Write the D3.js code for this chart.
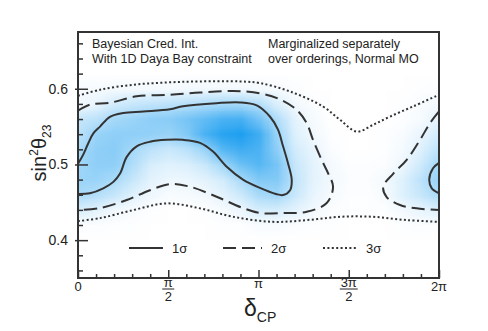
<!DOCTYPE html>
<html>
<head>
<meta charset="utf-8">
<script src="https://cdn.jsdelivr.net/npm/d3@7"></script>
<style>
  body { margin: 0; background: #fff; }
  text { font-family: "Liberation Sans", Arial, sans-serif; fill: #222; }
</style>
</head>
<body>
<script>
// chart.js - sin^2 theta23 vs delta_CP credible regions

const width = 488;
const height = 331;

// heat map nodes: delta in units of pi, rows of sin^2(theta23)
const heatDelta = [0, 0.1, 0.2, 0.3, 0.4, 0.5, 0.6, 0.7, 0.8, 0.9, 1.0, 1.1, 1.2, 1.3, 1.4, 1.5, 1.6, 1.7, 1.8, 1.9, 2.0];
const heatS23 = [0.62, 0.60, 0.58, 0.56, 0.54, 0.52, 0.50, 0.48, 0.46, 0.44, 0.42, 0.40];
const heatRows = [
  [0, 0, 0, 0, 0, 0, 0, 0, 0, 0, 0, 0, 0, 0, 0, 0, 0, 0, 0, 0, 0],
  [.04, .04, .05, .05, .05, .05, .06, .06, .06, .06, .05, .04, .02, 0, 0, 0, 0, 0, 0, .01, .02],
  [.06, .1, .2, .25, .28, .3, .32, .36, .4, .4, .34, .16, .06, .02, 0, 0, 0, 0, .01, .03, .06],
  [.25, .3, .4, .45, .5, .52, .6, .7, .8, .82, .62, .35, .12, .04, 0, 0, 0, 0, .01, .04, .12],
  [.3, .45, .5, .5, .48, .45, .55, .8, .95, 1, .85, .45, .15, .06, .01, 0, 0, .01, .03, .1, .2],
  [.38, .5, .52, .4, .3, .24, .3, .45, .75, .85, .8, .5, .2, .1, .02, 0, 0, .01, .05, .15, .3],
  [.42, .5, .5, .35, .18, .14, .16, .24, .42, .65, .75, .6, .25, .12, .05, .01, .01, .02, .08, .22, .42],
  [.45, .45, .38, .25, .12, .08, .08, .12, .2, .38, .55, .55, .28, .12, .06, .02, .02, .05, .15, .3, .48],
  [.38, .33, .25, .14, .07, .03, .04, .06, .12, .22, .38, .42, .24, .1, .04, .01, .01, .04, .15, .25, .38],
  [.17, .12, .06, .03, .01, 0, 0, .01, .04, .08, .18, .18, .12, .06, .02, .01, .01, .01, .06, .1, .15],
  [.02, .02, .01, .01, 0, 0, 0, 0, .01, .01, .03, .03, .02, .01, .01, 0, 0, 0, .01, .02, .02],
  [0, 0, 0, 0, 0, 0, 0, 0, 0, 0, 0, 0, 0, 0, 0, 0, 0, 0, 0, 0, 0]
];

// contours, [delta/pi, sin^2 theta23]
const sigma1Main = [
  [0, 0.501], [0.029, 0.513], [0.057, 0.528], [0.085, 0.541], [0.122, 0.550], [0.177, 0.563],
  [0.251, 0.568], [0.362, 0.570], [0.510, 0.573], [0.582, 0.577], [0.768, 0.581], [0.898, 0.582],
  [0.990, 0.578], [1.064, 0.563], [1.108, 0.546], [1.136, 0.524], [1.163, 0.502], [1.184, 0.480],
  [1.175, 0.466], [1.136, 0.4596], [1.097, 0.461], [1.008, 0.469], [0.914, 0.480], [0.824, 0.497],
  [0.748, 0.517], [0.676, 0.5285], [0.582, 0.5325], [0.491, 0.5325], [0.399, 0.530], [0.325, 0.524],
  [0.270, 0.510], [0.233, 0.488], [0.196, 0.477], [0.140, 0.4685], [0.066, 0.462], [0, 0.461]
];
const sigma1Right = [
  [2.0, 0.502], [1.967, 0.495], [1.946, 0.480], [1.960, 0.4685], [2.0, 0.462]
];
const sigma2Main = [
  [0, 0.571], [0.066, 0.579], [0.177, 0.5815], [0.325, 0.590], [0.510, 0.592], [0.676, 0.595],
  [0.859, 0.597], [1.008, 0.594], [1.119, 0.586], [1.212, 0.572], [1.267, 0.5546], [1.302, 0.5325],
  [1.350, 0.506], [1.385, 0.4887], [1.413, 0.4706], [1.378, 0.449], [1.267, 0.4375], [1.136, 0.4358],
  [1.008, 0.4358], [0.914, 0.4424], [0.768, 0.4574], [0.620, 0.4706], [0.510, 0.474], [0.399, 0.466],
  [0.270, 0.453], [0.122, 0.4424], [0, 0.4397]
];
const sigma2Right = [
  [2.0, 0.570], [1.950, 0.5546], [1.895, 0.5325], [1.821, 0.506], [1.747, 0.488], [1.691, 0.4706],
  [1.710, 0.457], [1.784, 0.4464], [1.876, 0.442], [2.0, 0.4397]
];
const sigma3Upper = [
  [0, 0.5907], [0.122, 0.5987], [0.305, 0.6053], [0.491, 0.6083], [0.676, 0.6097], [0.898, 0.6097],
  [1.008, 0.6075], [1.175, 0.5964], [1.357, 0.5766], [1.452, 0.559], [1.544, 0.5434], [1.634, 0.5523],
  [1.729, 0.5633], [1.856, 0.5766], [2.0, 0.592]
];
const sigma3Lower = [
  [0, 0.4252], [0.122, 0.4291], [0.305, 0.4397], [0.491, 0.4486], [0.676, 0.442], [0.859, 0.4309],
  [1.080, 0.4242], [1.267, 0.4265], [1.452, 0.4309], [1.634, 0.4309], [1.821, 0.4265], [2.0, 0.4242]
];

const yMajor = [0.4, 0.5, 0.6];
const yMinor = [0.36, 0.38, 0.42, 0.44, 0.46, 0.48, 0.52, 0.54, 0.56, 0.58, 0.62, 0.64, 0.66];
const xMinorSteps = [1, 2, 3, 4, 6, 7, 8, 9, 11, 12, 13, 14, 16, 17, 18, 19]; // in pi/10
const xMajorSteps = [0, 5, 10, 15, 20];

const margin = { left: 78, right: 49, top: 32, bottom: 53 };

const svg = d3.select("body").append("svg")
  .attr("width", width)
  .attr("height", height)
  .style("display", "block");

const x = d3.scaleLinear().domain([0, 2 * Math.PI]).range([margin.left, width - margin.right]);
const y = d3.scaleLinear().domain([0.35, 0.675]).range([height - margin.bottom, margin.top]);

// colour map, white to blue
const color = d3.scaleLinear().domain([0, 1]).range(["#ffffff", "#1e9ff0"]);

svg.append("clipPath").attr("id", "plotClip")
  .append("rect")
  .attr("x", x(0)).attr("y", y(0.675))
  .attr("width", x(2 * Math.PI) - x(0))
  .attr("height", y(0.35) - y(0.675));

// build a tiny image, one pixel per node, let the browser smooth it
const canvas = document.createElement("canvas");
canvas.width = heatDelta.length;
canvas.height = heatS23.length;
const ctx = canvas.getContext("2d");
heatRows.forEach((row, j) => {
  row.forEach((v, i) => {
    ctx.fillStyle = color(v);
    ctx.fillRect(i, j, 1, 1);
  });
});
const cellW = x(heatDelta[1] * Math.PI) - x(heatDelta[0] * Math.PI);
const cellH = y(heatS23[1]) - y(heatS23[0]);

svg.append("g").attr("clip-path", "url(#plotClip)")
  .append("image")
  .attr("href", canvas.toDataURL())
  .attr("preserveAspectRatio", "none")
  .attr("x", x(heatDelta[0] * Math.PI) - cellW / 2)
  .attr("y", y(heatS23[0]) - cellH / 2)
  .attr("width", cellW * heatDelta.length)
  .attr("height", cellH * heatS23.length);

// contour lines
const line = d3.line()
  .x(d => x(d[0] * Math.PI))
  .y(d => y(d[1]))
  .curve(d3.curveCatmullRom.alpha(0.5));

const styles = {
  solid: null,
  dashed: "13,6",
  dotted: "2,2.4"
};

const contours = [
  [sigma1Main, "solid"], [sigma1Right, "solid"],
  [sigma2Main, "dashed"], [sigma2Right, "dashed"],
  [sigma3Upper, "dotted"], [sigma3Lower, "dotted"]
];

const cg = svg.append("g").attr("clip-path", "url(#plotClip)");
contours.forEach(([pts, s]) => {
  cg.append("path")
    .attr("d", line(pts))
    .attr("fill", "none")
    .attr("stroke", "#333")
    .attr("stroke-width", 2)
    .attr("stroke-dasharray", styles[s]);
});

// axes
const yAxis = svg.append("g")
  .attr("transform", `translate(${x(0)},0)`)
  .call(d3.axisLeft(y).tickValues(yMajor).tickSizeInner(-10).tickSizeOuter(0).tickPadding(10)
    .tickFormat(d3.format(".1f")));
yAxis.select(".domain").remove();
yAxis.selectAll("line").attr("stroke", "#333").attr("stroke-width", 1.5).attr("x1", -3);
yAxis.selectAll("text").style("font-size", "14px").attr("fill", "#222");

const yMinorAxis = svg.append("g")
  .attr("transform", `translate(${x(0)},0)`)
  .call(d3.axisLeft(y).tickValues(yMinor).tickSizeInner(-5).tickSizeOuter(0).tickFormat(""));
yMinorAxis.select(".domain").remove();
yMinorAxis.selectAll("line").attr("stroke", "#333").attr("stroke-width", 1.5);

const xAxis = svg.append("g")
  .attr("transform", `translate(0,${y(0.35)})`)
  .call(d3.axisBottom(x).tickValues(xMajorSteps.map(k => k * Math.PI / 10)).tickSizeInner(-8).tickSizeOuter(0).tickFormat(""));
xAxis.select(".domain").remove();
xAxis.selectAll("line").attr("stroke", "#333").attr("stroke-width", 1.5);

const xMinorAxis = svg.append("g")
  .attr("transform", `translate(0,${y(0.35)})`)
  .call(d3.axisBottom(x).tickValues(xMinorSteps.map(k => k * Math.PI / 10)).tickSizeInner(-4).tickSizeOuter(0).tickFormat(""));
xMinorAxis.select(".domain").remove();
xMinorAxis.selectAll("line").attr("stroke", "#333").attr("stroke-width", 1.5);

// frame
svg.append("rect")
  .attr("x", x(0)).attr("y", y(0.675))
  .attr("width", x(2 * Math.PI) - x(0))
  .attr("height", y(0.35) - y(0.675))
  .attr("fill", "none")
  .attr("stroke", "#333")
  .attr("stroke-width", 2);

// x tick labels, pi fractions
const xLab = svg.append("g").style("font-size", "13px").attr("text-anchor", "middle");
const yb = y(0.35);
xLab.append("text").attr("x", x(0)).attr("y", yb + 13).text("0");
xLab.append("text").attr("x", x(Math.PI)).attr("y", yb + 10).text("π");
xLab.append("text").attr("x", x(2 * Math.PI)).attr("y", yb + 13).text("2π");
[[Math.PI / 2, "π", 6], [3 * Math.PI / 2, "3π", 9]].forEach(([v, num, hw]) => {
  xLab.append("text").attr("x", x(v)).attr("y", yb + 9).text(num);
  xLab.append("line")
    .attr("x1", x(v) - hw).attr("x2", x(v) + hw)
    .attr("y1", yb + 11).attr("y2", yb + 11)
    .attr("stroke", "#222").attr("stroke-width", 1);
  xLab.append("text").attr("x", x(v)).attr("y", yb + 23).text("2");
});

// axis titles
const xt = svg.append("text")
  .attr("x", 244).attr("y", 316);
xt.append("tspan").style("font-size", "23px").text("δ");
xt.append("tspan").style("font-size", "14px").attr("dy", 6).text("CP");

const yt = svg.append("text")
  .attr("transform", "translate(46,153) rotate(-90)")
  .attr("text-anchor", "middle");
yt.append("tspan").style("font-size", "20px").text("sin");
yt.append("tspan").style("font-size", "12px").attr("dy", -8).text("2");
yt.append("tspan").style("font-size", "20px").attr("dy", 8).text("θ");
yt.append("tspan").style("font-size", "12px").attr("dy", 5).text("23");

// annotations
const notes = svg.append("g").style("font-size", "12.5px");
notes.append("text").attr("x", 92).attr("y", 48).text("Bayesian Cred. Int.");
notes.append("text").attr("x", 92).attr("y", 63).text("With 1D Daya Bay constraint");
notes.append("text").attr("x", 268).attr("y", 48).text("Marginalized separately");
notes.append("text").attr("x", 268).attr("y", 63).text("over orderings, Normal MO");

// legend
const legendItems = [
  ["solid", "1σ", 129, 163],
  ["dashed", "2σ", 223, 262],
  ["dotted", "3σ", 323, 357]
];
const lg = svg.append("g");
legendItems.forEach(([s, label, x1, x2]) => {
  lg.append("line")
    .attr("x1", x1).attr("x2", x2)
    .attr("y1", 248).attr("y2", 248)
    .attr("stroke", "#333").attr("stroke-width", 2)
    .attr("stroke-dasharray", styles[s]);
  lg.append("text")
    .attr("x", x2 + 9).attr("y", 253)
    .style("font-size", "13px")
    .text(label);
});
</script>
</body>
</html>
